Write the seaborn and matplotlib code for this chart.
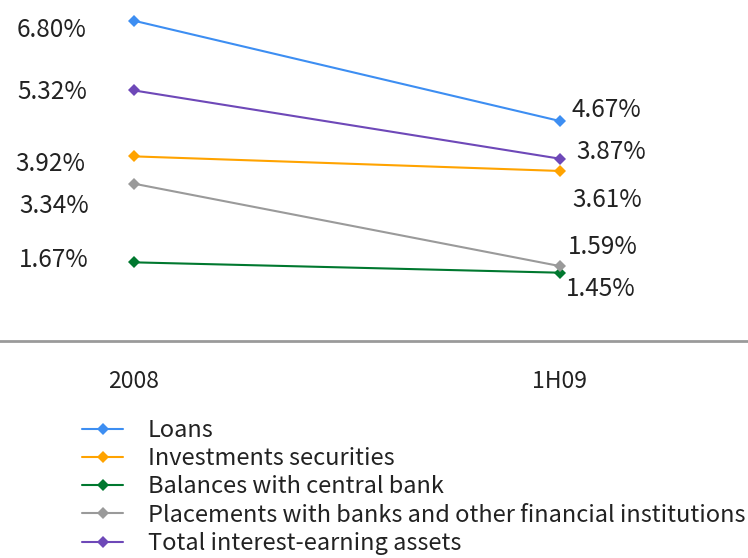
import matplotlib
matplotlib.use("Agg")
import matplotlib.pyplot as plt
import seaborn as sns
import pandas as pd

periods = ["2008", "1H09"]
series_names = [
    "Loans",
    "Investments securities",
    "Balances with central bank",
    "Placements with banks and other financial institutions",
    "Total interest-earning assets",
]
loans = [6.80, 4.67]
investments = [3.92, 3.61]
central_bank = [1.67, 1.45]
placements = [3.34, 1.59]
total_assets = [5.32, 3.87]

colors = ["#3D8EF2", "#FFA300", "#00782F", "#9A9A9A", "#6E48B8"]

values = [loans, investments, central_bank, placements, total_assets]
rows = []
for name, vals in zip(series_names, values):
    for p, v in zip(periods, vals):
        rows.append({"period": p, "rate": v, "series": name})
df = pd.DataFrame(rows)

sns.set_style("white")
plt.rcParams["font.family"] = ["Noto Sans CJK KR", "DejaVu Sans"]

fig = plt.figure(figsize=(7.48, 5.58), dpi=100)
ax = fig.add_axes([0, 1 - 341 / 558, 1, 341 / 558])

sns.lineplot(
    data=df, x="period", y="rate", hue="series", hue_order=series_names,
    palette=colors, marker="D", markersize=6, markeredgewidth=0,
    linewidth=1.5, ax=ax, sort=False,
)

ax.set_xlim(-134 / 426, 1 + 188 / 426)
ax.set_ylim(0, 341 / 47.1)
for s in ["top", "left", "right"]:
    ax.spines[s].set_visible(False)
ax.spines["bottom"].set_color("#9A9A9A")
ax.spines["bottom"].set_linewidth(2)
ax.set_yticks([])
ax.tick_params(axis="x", length=0, pad=21, labelsize=16.5, labelcolor="#222222")
ax.set_xlabel("")
ax.set_ylabel("")

# value labels: (series values, index, x offset px, y offset px, alignment)
label_specs = [
    (loans, 0, -47, -9, "right"),
    (total_assets, 0, -47, -2, "right"),
    (investments, 0, -49, -8, "right"),
    (placements, 0, -45, -22, "right"),
    (central_bank, 0, -45, 2, "right"),
    (loans, 1, 12, 11, "left"),
    (total_assets, 1, 16, 7, "left"),
    (investments, 1, 12, -29, "left"),
    (placements, 1, 8, 19, "left"),
    (central_bank, 1, 6, -16, "left"),
]
for vals, i, dx, dy, ha in label_specs:
    ax.annotate(
        f"{vals[i]:.2f}%", xy=(i, vals[i]), xytext=(dx, dy),
        textcoords="offset pixels", ha=ha, va="center",
        fontsize=17.5, color="#222222", annotation_clip=False,
    )

handles, labels = ax.get_legend_handles_labels()
if ax.legend_:
    ax.legend_.remove()
fig.legend(
    handles, labels, loc="upper left",
    bbox_to_anchor=(82 / 748, 1 - 419 / 558), frameon=False,
    fontsize=17, handlelength=1.74, handletextpad=1.05,
    labelspacing=0.22, borderpad=0, borderaxespad=0,
    labelcolor="#222222",
)

fig.savefig("out.png", dpi=100)
